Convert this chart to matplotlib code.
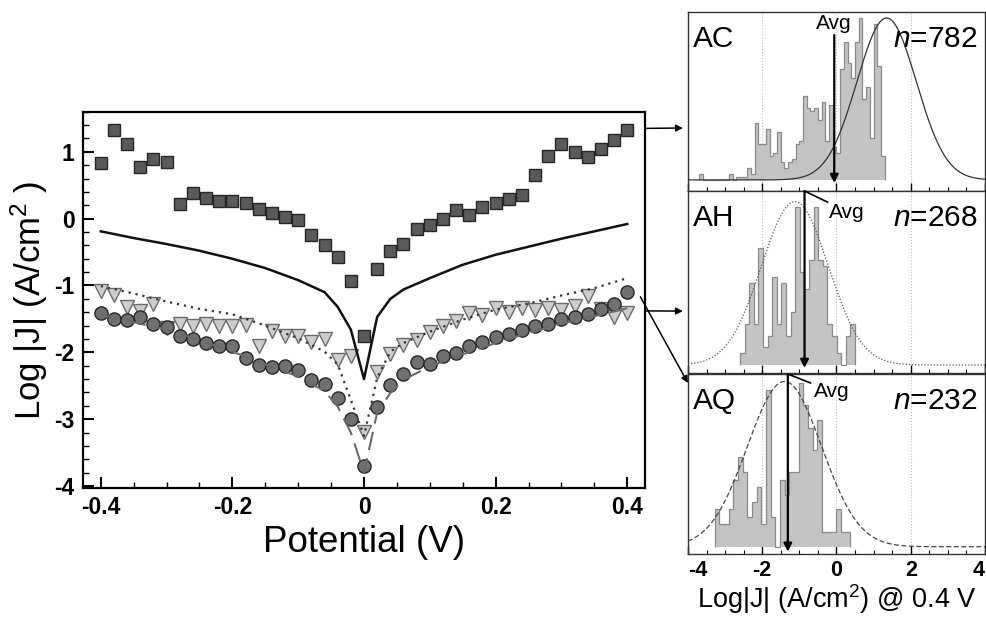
import numpy as np
import matplotlib
matplotlib.use("Agg")
import matplotlib.pyplot as plt
from matplotlib.ticker import MultipleLocator

plt.rcParams['font.family'] = ['Liberation Sans', 'DejaVu Sans']
plt.rcParams['mathtext.fontset'] = 'custom'
plt.rcParams['mathtext.rm'] = 'Liberation Sans'
plt.rcParams['mathtext.it'] = 'Liberation Sans:italic'
plt.rcParams['mathtext.bf'] = 'Liberation Sans:bold'
plt.rcParams['axes.unicode_minus'] = False

# ---- J-V data (log |J|, A/cm^2) ----
potential = np.round(np.linspace(-0.4, 0.4, 41), 2)
ac_points = [0.83, 1.33, 1.12, 0.77, 0.89, 0.85, 0.22, 0.38, 0.31, 0.27, 0.27,
             0.23, 0.14, 0.09, 0.03, -0.02, -0.24, -0.40, -0.58, -0.94, -1.76,
             -0.75, -0.48, -0.38, -0.16, -0.10, -0.01, 0.13, 0.05, 0.17, 0.24,
             0.30, 0.36, 0.65, 0.94, 1.12, 1.00, 0.92, 1.04, 1.18, 1.33]
ah_points = [-1.08, -1.14, -1.32, -1.38, -1.27, -1.64, -1.57, -1.60, -1.57, -1.61,
             -1.60, -1.59, -1.90, -1.68, -1.76, -1.76, -1.85, -1.80, -2.12, -2.06,
             -3.19,
             -2.30, -2.02, -1.89, -1.81, -1.70, -1.61, -1.53, -1.41, -1.44, -1.34,
             -1.40, -1.34, -1.36, -1.33, -1.37, -1.30, -1.15, -1.35, -1.47, -1.41]
aq_points = [-1.41, -1.50, -1.51, -1.47, -1.58, -1.62, -1.75, -1.80, -1.86, -1.90,
             -1.91, -2.08, -2.19, -2.22, -2.20, -2.26, -2.41, -2.48, -2.69, -2.99,
             -3.70,
             -2.82, -2.49, -2.32, -2.15, -2.17, -2.06, -2.01, -1.90, -1.85, -1.77,
             -1.72, -1.66, -1.60, -1.57, -1.50, -1.47, -1.43, -1.35, -1.28, -1.10]

# fitted curves
fit_v = [-0.4, -0.35, -0.3, -0.25, -0.2, -0.15, -0.1, -0.06, -0.04, -0.02, 0.0,
         0.02, 0.04, 0.06, 0.1, 0.15, 0.2, 0.25, 0.3, 0.35, 0.4]
fit_solid = [-0.19, -0.29, -0.38, -0.48, -0.60, -0.74, -0.92, -1.10, -1.32, -1.66, -2.40,
             -1.47, -1.20, -1.06, -0.89, -0.69, -0.54, -0.42, -0.30, -0.19, -0.08]
fit_dotted = [-1.01, -1.12, -1.24, -1.35, -1.43, -1.60, -1.79, -1.99, -2.18, -2.71, -3.25,
              -2.38, -1.99, -1.86, -1.69, -1.51, -1.36, -1.27, -1.15, -1.04, -0.89]
fit_dashed = [-1.44, -1.55, -1.66, -1.82, -1.99, -2.18, -2.36, -2.58, -2.81, -3.20, -3.80,
              -2.90, -2.61, -2.41, -2.21, -2.03, -1.86, -1.71, -1.57, -1.46, -1.34]

# ---- histograms of log|J| @ 0.4 V ----
hist_names = ["AC", "AH", "AQ"]
hist_n = [782, 268, 232]
hist_start = [-3.7, -2.60, -3.28]
hist_width = [0.1, 0.124, 0.1255]
hist_ac = [2, 0, 0, 0, 0, 0, 0, 0, 2, 0, 1, 1, 1, 4, 2, 19, 12, 12, 17, 8, 9, 16, 6, 4,
           6, 7, 12, 13, 28, 24, 23, 24, 20, 26, 13, 25, 11, 9, 37, 46, 39, 34, 46, 54,
           27, 31, 14, 52, 38, 8]
hist_ah = [2, 7, 14, 7, 20, 3, 5, 15, 7, 14, 5, 9, 27, 16, 13, 18, 27, 18, 17, 7, 5, 2,
           0, 5, 7]
hist_aq = [5, 3, 3, 5, 9, 12, 10, 4, 6, 8, 3, 21, 4, 0, 9, 7, 10, 10, 22, 19, 16, 13, 17,
           2, 2, 2, 5, 2, 2]
hist_counts = [hist_ac, hist_ah, hist_aq]
# gaussian fits: mean, sigma, amplitude (counts)
gauss_mu = [1.35, -1.12, -1.40]
gauss_sigma = [0.80, 0.90, 1.00]
gauss_amp = [54, 28, 22.2]
avg_value = [-0.06, -0.86, -1.31]

fig = plt.figure(figsize=(9.87, 6.17), dpi=100)

# ---------------- main J-V plot ----------------
ax = fig.add_axes([0.0841, 0.209, 0.5694, 0.610])
ax.plot(potential, ac_points, 's', ms=9.3, mfc='#5a5a5a', mec='#262626', mew=1.0, zorder=3)
ax.plot(potential, ah_points, 'v', ms=10, mfc='#cdcdcd', mec='#6a6a6a', mew=1.0, zorder=3)
ax.plot(potential, aq_points, 'o', ms=9.5, mfc='#707070', mec='#262626', mew=1.0, zorder=3)
ax.plot(fit_v, fit_solid, '-', color='#111111', lw=1.8, zorder=4)
ax.plot(fit_v, fit_dotted, color='#333333', lw=1.6, ls=(0, (1, 2.2)), zorder=4)
ax.plot(fit_v, fit_dashed, color='#6a6a6a', lw=1.5, ls=(0, (9, 4)), zorder=4)

ax.set_xlim(-0.427, 0.427)
ax.set_ylim(-4.03, 1.6)
ax.xaxis.set_major_locator(MultipleLocator(0.2))
ax.xaxis.set_minor_locator(MultipleLocator(0.05))
ax.yaxis.set_major_locator(MultipleLocator(1))
ax.yaxis.set_minor_locator(MultipleLocator(0.2))
ax.set_xticks([-0.4, -0.2, 0, 0.2, 0.4])
ax.set_xticklabels(["-0.4", "-0.2", "0", "0.2", "0.4"])
ax.tick_params(which='both', direction='in', top=False, right=False)
ax.tick_params(which='major', length=8, width=1.5, labelsize=16.5, pad=6)
ax.tick_params(which='minor', length=4, width=1.0)
for lab in ax.get_xticklabels() + ax.get_yticklabels():
    lab.set_fontweight('bold')
for s in ax.spines.values():
    s.set_linewidth(1.6)
ax.set_xlabel("Potential (V)", fontsize=26.5, labelpad=4)
ax.set_ylabel("Log |J| (A/cm$^2$ )", fontsize=25, labelpad=3)

# ---------------- histogram panels ----------------
panel_bottom = [0.6904, 0.3955, 0.1021]
panel_height = [0.2902, 0.2949, 0.2917]
panel_ylim = [(-3.7, 56), (-1.37, 29.8), (-0.98, 23.2)]
gauss_style = [dict(ls='-', color='#333333', lw=0.9),
               dict(ls=(0, (1, 1.5)), color='#555555', lw=0.9),
               dict(ls=(0, (4, 2)), color='#444444', lw=0.9)]
gx = np.linspace(-4, 4, 400)
hist_axes = []
for i in range(3):
    h = fig.add_axes([0.697, panel_bottom[i], 0.301, panel_height[i]])
    hist_axes.append(h)
    counts = np.array(hist_counts[i])
    edges = hist_start[i] + hist_width[i] * np.arange(len(counts) + 1)
    h.stairs(counts, edges, fill=True, color='#c3c3c3', zorder=2)
    h.stairs(counts, edges, color='#8a8a8a', lw=0.9, zorder=2)
    gy = gauss_amp[i] * np.exp(-(gx - gauss_mu[i]) ** 2 / (2 * gauss_sigma[i] ** 2))
    h.plot(gx, gy, zorder=3, **gauss_style[i])
    for g in (-2, 0, 2):
        h.axvline(g, color='#bdbdbd', lw=0.8, ls=':', zorder=1)
    h.set_xlim(-4, 4)
    h.set_ylim(*panel_ylim[i])
    h.set_yticks([])
    h.xaxis.set_major_locator(MultipleLocator(2))
    h.xaxis.set_minor_locator(MultipleLocator(0.5))
    h.tick_params(which='both', direction='in', top=False)
    h.tick_params(which='major', length=6, width=1.0, labelsize=15.5, pad=4)
    h.tick_params(which='minor', length=3, width=0.8)
    for s in h.spines.values():
        s.set_linewidth(1.0)
        s.set_color('#333333')
    if i < 2:
        h.tick_params(labelbottom=False)
    h.text(0.018, 0.93, hist_names[i], transform=h.transAxes, fontsize=21.5,
           ha='left', va='top')
    h.text(0.975, 0.93, "$n$=%d" % hist_n[i], transform=h.transAxes, fontsize=21.5,
           ha='right', va='top')

hb = hist_axes[2]
hb.set_xticks([-4, -2, 0, 2, 4])
hb.set_xticklabels(["-4", "-2", "0", "2", "4"])
for lab in hb.get_xticklabels():
    lab.set_fontweight('bold')
hb.get_xticklabels()[-1].set_horizontalalignment('right')
hb.get_xticklabels()[0].set_horizontalalignment('left')
hb.set_xlabel("Log|J| (A/cm$^2$) @ 0.4 V", fontsize=19.5, labelpad=1)

# average arrows
arr = dict(arrowstyle='-|>', color='k', lw=1.6, mutation_scale=12, shrinkA=0, shrinkB=0)
hac, hah, haq = hist_axes
hac.annotate("", xy=(avg_value[0], -1.0), xytext=(avg_value[0], 48.3), arrowprops=arr,
             annotation_clip=False, zorder=5)
hac.text(avg_value[0], 52.3, "Avg", fontsize=15, ha='center', va='center')
hah.annotate("", xy=(avg_value[1], -0.5), xytext=(avg_value[1], 29.8), arrowprops=arr,
             annotation_clip=False, zorder=5)
hah.plot([avg_value[1], -0.24], [29.8, 27.9], color='k', lw=1.2, clip_on=False, zorder=5)
hah.text(-0.2, 26.2, "Avg", fontsize=15, ha='left', va='center')
haq.annotate("", xy=(avg_value[2], -0.67), xytext=(avg_value[2], 23.2), arrowprops=arr,
             annotation_clip=False, zorder=5)
haq.plot([avg_value[2], -0.70], [23.2, 22.0], color='k', lw=1.2, clip_on=False, zorder=5)
haq.text(-0.62, 20.8, "Avg", fontsize=15, ha='left', va='center')

# arrows linking the main plot to the histograms
link = dict(arrowstyle='-|>', color='k', lw=1.1, mutation_scale=10, shrinkA=0, shrinkB=0)
ax.annotate("", xy=(-0.017, 0.352), xycoords=hac.transAxes, xytext=(0.427, 1.35),
            textcoords='data', arrowprops=link, annotation_clip=False)
ax.annotate("", xy=(-0.017, 0.34), xycoords=hah.transAxes, xytext=(0.427, -1.38),
            textcoords='data', arrowprops=link, annotation_clip=False)
ax.annotate("", xy=(0.0, 0.95), xycoords=haq.transAxes, xytext=(0.42, -1.17),
            textcoords='data', arrowprops=link, annotation_clip=False)

fig.savefig("out.png", dpi=100)
